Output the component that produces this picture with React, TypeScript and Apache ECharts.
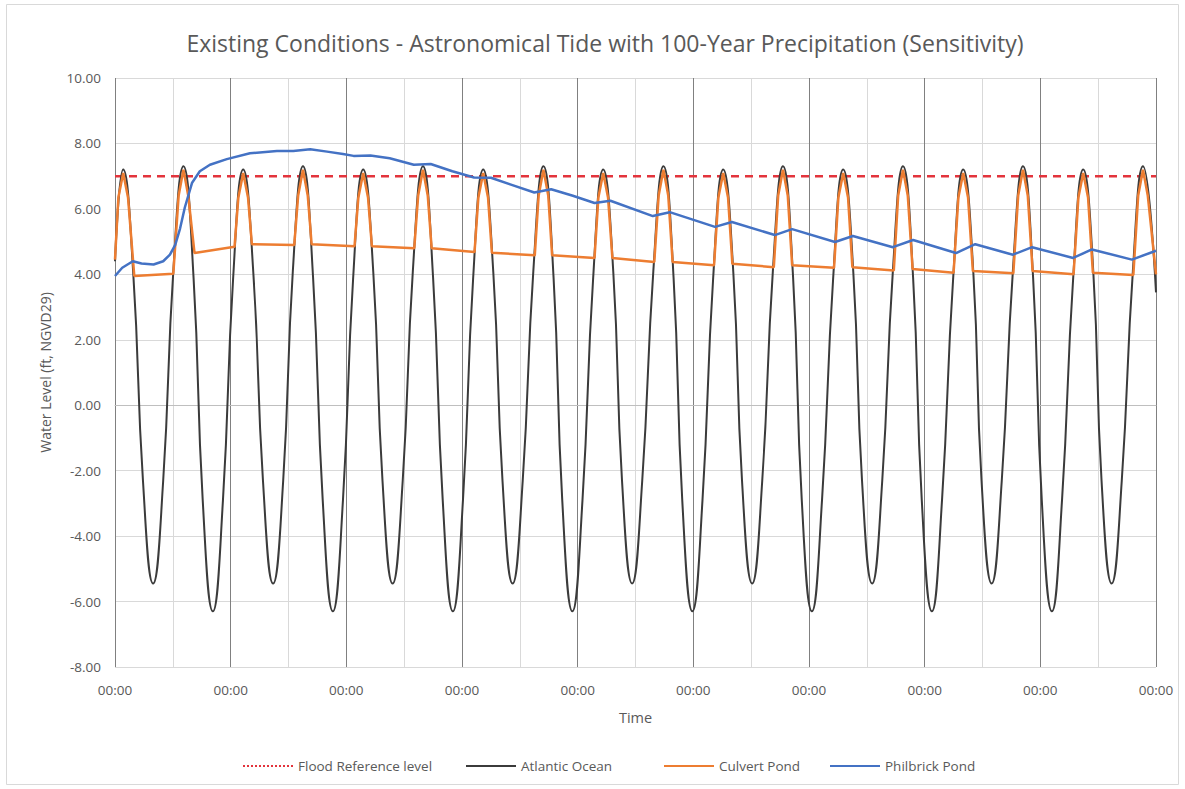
import React, { useEffect, useRef } from "react";
import * as echarts from "echarts";

// ---------- data (hours from start, water level ft NGVD29) ----------
const xTickLabels = ["00:00", "00:00", "00:00", "00:00", "00:00", "00:00", "00:00", "00:00", "00:00", "00:00"];

const floodTimes = [0, 216];
const floodLevels = [7.0, 7.0];

const atlanticTimes = [
  0, 1.7, 3.8, 5.8, 7.9, 10.0, 12.1, 14.2, 16.3, 18.2, 20.3, 22.4,
  24.5, 26.6, 28.7, 30.7, 32.8, 34.9, 36.9, 39.0, 41.1, 43.1, 45.2, 47.3,
  49.4, 51.5, 53.6, 55.5, 57.6, 59.7, 61.8, 63.9, 66.0, 68.0, 70.1, 72.2,
  74.3, 76.4, 78.5, 80.4, 82.5, 84.6, 86.8, 88.9, 91.0, 92.8, 94.9, 97.0,
  99.2, 101.3, 103.4, 105.2, 107.3, 109.4, 111.7, 113.8, 115.9, 117.7, 119.8, 121.9,
  124.1, 126.2, 128.3, 130.1, 132.2, 134.3, 136.5, 138.6, 140.7, 142.5, 144.6, 146.7,
  149.0, 151.1, 153.2, 155.0, 157.1, 159.2, 161.4, 163.5, 165.6, 167.4, 169.5, 171.6,
  173.9, 176.0, 178.1, 179.8, 181.9, 184.0, 186.3, 188.4, 190.5, 192.3, 194.4, 196.5,
  198.8, 200.9, 203.0, 204.7, 206.8, 208.9, 211.2, 213.3, 216,
];
const atlanticLevels = [
  4.4, 7.2, 4.0, -2.3, -5.45, -2.3, 4.1, 7.3, 3.9, -2.9, -6.3, -2.9,
  3.85, 7.2, 4.05, -2.3, -5.45, -2.3, 4.1, 7.3, 3.9, -2.9, -6.3, -2.9,
  3.85, 7.2, 4.05, -2.3, -5.45, -2.3, 4.1, 7.3, 3.9, -2.9, -6.3, -2.9,
  3.85, 7.2, 4.05, -2.3, -5.45, -2.3, 4.1, 7.3, 3.9, -2.9, -6.3, -2.9,
  3.85, 7.2, 4.05, -2.3, -5.45, -2.3, 4.1, 7.3, 3.9, -2.9, -6.3, -2.9,
  3.85, 7.2, 4.05, -2.3, -5.45, -2.3, 4.1, 7.3, 3.9, -2.9, -6.3, -2.9,
  3.85, 7.2, 4.05, -2.3, -5.45, -2.3, 4.1, 7.3, 3.9, -2.9, -6.3, -2.9,
  3.85, 7.2, 4.05, -2.3, -5.45, -2.3, 4.1, 7.3, 3.9, -2.9, -6.3, -2.9,
  3.85, 7.2, 4.05, -2.3, -5.45, -2.3, 4.1, 7.3, 3.45,
];

const culvertTimes = [
  0, 0.7, 1.7, 2.7, 4.0, 12.1,
  13.2, 14.2, 15.2, 16.5, 24.8,
  25.6, 26.6, 27.6, 28.4, 37.2,
  38.0, 39.0, 40.0, 40.8, 49.7,
  50.5, 51.5, 52.5, 53.3, 62.1,
  62.9, 63.9, 64.9, 65.7, 74.6,
  75.4, 76.4, 77.4, 78.2, 87.1,
  87.9, 88.9, 89.9, 90.7, 99.5,
  100.3, 101.3, 102.3, 103.2, 111.9,
  112.8, 113.8, 114.8, 115.7, 124.3,
  125.2, 126.2, 127.2, 128.1, 136.7,
  137.6, 138.6, 139.6, 140.5, 149.2,
  150.1, 151.1, 152.1, 153.0, 161.6,
  162.5, 163.5, 164.5, 165.5, 174.0,
  175.0, 176.0, 177.0, 178.0, 186.4,
  187.4, 188.4, 189.4, 190.4, 198.9,
  199.9, 200.9, 201.9, 202.9, 211.3,
  212.3, 213.3, 214.3, 216,
];
const culvertLevels = [
  4.45, 6.35, 7.1, 6.35, 3.95, 4.02,
  6.4, 7.2, 6.4, 4.65, 4.84,
  6.35, 7.1, 6.35, 4.92, 4.9,
  6.4, 7.2, 6.4, 4.92, 4.86,
  6.35, 7.1, 6.35, 4.86, 4.8,
  6.4, 7.2, 6.4, 4.8, 4.68,
  6.35, 7.1, 6.35, 4.66, 4.58,
  6.4, 7.2, 6.4, 4.58, 4.5,
  6.35, 7.1, 6.35, 4.5, 4.38,
  6.4, 7.2, 6.4, 4.38, 4.28,
  6.35, 7.1, 6.35, 4.32, 4.22,
  6.4, 7.2, 6.4, 4.28, 4.2,
  6.35, 7.1, 6.35, 4.22, 4.12,
  6.4, 7.2, 6.4, 4.16, 4.05,
  6.35, 7.1, 6.35, 4.1, 4.03,
  6.4, 7.2, 6.4, 4.1, 4.0,
  6.35, 7.1, 6.35, 4.05, 3.98,
  6.4, 7.2, 6.4, 4.0,
];

const philbrickTimes = [
  0, 1.5, 3.7, 5.5, 8.0, 10.0, 11.4, 12.5, 13.5, 14.5, 16.0, 17.6, 19.7, 23.2,
  28.0, 33.6, 37.0, 40.5, 44.0, 47.3, 49.5, 53.0, 57.0, 62.0, 65.5, 70.0,
  74.5, 78.0, 82.0, 87.0, 90.5, 95.0, 99.5, 102.8, 111.6, 115.1, 124.5, 128.0,
  136.9, 140.5, 149.4, 153.1, 161.4, 165.6, 174.5, 178.5, 186.3, 190.3, 198.8,
  202.7, 211.0, 216,
];
const philbrickLevels = [
  3.95, 4.2, 4.4, 4.33, 4.3, 4.4, 4.6, 4.9, 5.4, 6.05, 6.8, 7.15, 7.35, 7.52,
  7.7, 7.77, 7.77, 7.82, 7.75, 7.68, 7.62, 7.63, 7.55, 7.35, 7.37, 7.15,
  6.96, 6.95, 6.75, 6.5, 6.6, 6.4, 6.18, 6.25, 5.78, 5.9, 5.45, 5.6,
  5.2, 5.38, 4.99, 5.17, 4.83, 5.05, 4.65, 4.92, 4.6, 4.83, 4.5,
  4.76, 4.45, 4.72,
];

const seriesNames = ["Flood Reference level", "Atlantic Ocean", "Culvert Pond", "Philbrick Pond"];

const pairs = (t: number[], v: number[]) => t.map((x, i) => [x, v[i]]);

const FONT = "'Open Sans', 'Noto Sans', sans-serif";
const GRAY = "#595959";

const SOLID_ICON = "path://M0,0h50v2h-50z";
const DOT_ICON =
  "path://M0,0h2v2h-2z M4,0h2v2h-2z M8,0h2v2h-2z M12,0h2v2h-2z M16,0h2v2h-2z M20,0h2v2h-2z M24,0h2v2h-2z M28,0h2v2h-2z M32,0h2v2h-2z M36,0h2v2h-2z M40,0h2v2h-2z M44,0h2v2h-2z M48,0h2v2h-2z";

const legendLefts = [243, 466, 664, 830];

export default function App() {
  const ref = useRef<HTMLDivElement>(null);
  useEffect(() => {
    const chart = echarts.init(ref.current!, null, { renderer: "svg" });
    chart.setOption({
      animation: false,
      backgroundColor: "#ffffff",
      textStyle: { fontFamily: FONT },
      title: {
        text: "Existing Conditions - Astronomical Tide with 100-Year Precipitation (Sensitivity)",
        left: 600,
        textAlign: "center",
        top: 26,
        textStyle: { fontFamily: FONT, fontSize: 23, fontWeight: "normal", color: GRAY },
      },
      graphic: [
        {
          type: "rect",
          shape: { x: 6.5, y: 4.5, width: 1172, height: 780 },
          style: { fill: "none", stroke: "#d9d9d9", lineWidth: 1 },
          silent: true,
        },
      ],
      grid: { left: 115, right: 29, top: 78, bottom: 122 },
      legend: seriesNames.map((name, i) => ({
        left: legendLefts[i],
        top: 759,
        itemWidth: 50,
        itemHeight: 2,
        itemGap: 0,
        padding: 0,
        textStyle: { fontFamily: FONT, fontSize: 13.5, color: GRAY },
        data: [{ name, icon: i === 0 ? DOT_ICON : SOLID_ICON }],
      })),
      xAxis: {
        type: "value",
        min: 0,
        max: 216,
        interval: 24,
        name: "Time",
        nameLocation: "middle",
        nameGap: 43,
        nameTextStyle: { fontFamily: FONT, fontSize: 14.5, color: GRAY },
        axisLine: { show: true, lineStyle: { color: "#bfbfbf", width: 1 } },
        axisTick: { show: false },
        axisLabel: {
          color: GRAY,
          fontSize: 13.5,
          margin: 16,
          formatter: (v: number) => xTickLabels[Math.round(v / 24)] ?? "00:00",
        },
        splitLine: { show: true, lineStyle: { color: "#808080", width: 1 } },
        minorTick: { show: false, splitNumber: 2 },
        minorSplitLine: { show: true, lineStyle: { color: "#d9d9d9", width: 1 } },
      },
      yAxis: {
        type: "value",
        min: -8,
        max: 10,
        interval: 2,
        name: "Water Level (ft, NGVD29)",
        nameLocation: "middle",
        nameGap: 63,
        nameTextStyle: { fontFamily: FONT, fontSize: 14, color: GRAY },
        axisLine: { show: false },
        axisTick: { show: false },
        axisLabel: { color: GRAY, fontSize: 13.5, margin: 14, formatter: (v: number) => v.toFixed(2) },
        splitLine: { show: true, lineStyle: { color: "#d9d9d9", width: 1 } },
      },
      series: [
        {
          name: seriesNames[0],
          type: "line",
          symbol: "none",
          data: pairs(floodTimes, floodLevels),
          lineStyle: { color: "#e3343c", width: 2.5, type: [8, 6] },
          itemStyle: { color: "#e3343c" },
        },
        {
          name: seriesNames[1],
          type: "line",
          symbol: "none",
          smooth: 0.5,
          data: pairs(atlanticTimes, atlanticLevels),
          lineStyle: { color: "#3b3b3b", width: 2 },
          itemStyle: { color: "#3b3b3b" },
        },
        {
          name: seriesNames[2],
          type: "line",
          symbol: "none",
          data: pairs(culvertTimes, culvertLevels),
          lineStyle: { color: "#ed7d31", width: 2.5 },
          itemStyle: { color: "#ed7d31" },
        },
        {
          name: seriesNames[3],
          type: "line",
          symbol: "none",
          data: pairs(philbrickTimes, philbrickLevels),
          lineStyle: { color: "#4472c4", width: 2.5 },
          itemStyle: { color: "#4472c4" },
        },
      ],
    });
    return () => chart.dispose();
  }, []);
  return (
    <div
      ref={ref}
      style={{ position: "absolute", left: 0, top: 0, width: 1185, height: 789, background: "#fff" }}
    />
  );
}
